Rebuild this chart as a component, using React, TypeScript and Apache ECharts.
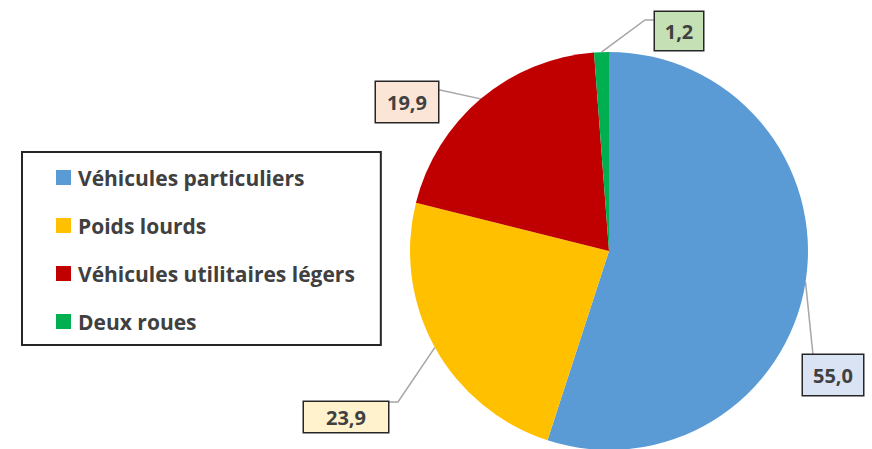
import React, { useEffect, useRef } from 'react';
import * as echarts from 'echarts';

const categories = ['Véhicules particuliers', 'Poids lourds', 'Véhicules utilitaires légers', 'Deux roues'];
const values = [55.0, 23.9, 19.9, 1.2];

const sliceColors = ['#5B9BD5', '#FFC000', '#C00000', '#00B050'];
const labelBackgrounds = ['#DAE3F3', '#FFF2CC', '#FBE5D6', '#C5E0B4'];
// label box centres, text widths, paddings and leader line [bend, end] points (layout, in px)
const labelCentres = [[833, 375], [346, 417], [407, 102], [679, 31]];
const labelWidths = [42, 42, 42, 28];
const labelPaddings = [[10, 9], [5, 21], [10, 10], [9, 10]];
const leaderPaths = [
  [[813, 355], [813, 355]],
  [[398, 402], [388, 402]],
  [[440, 90], [438, 90]],
  [[645, 20], [655, 20]],
];

const fmt = (v: number) => v.toFixed(1).replace('.', ',');

export default function App() {
  const ref = useRef<HTMLDivElement>(null);
  useEffect(() => {
    if (!ref.current) return;
    const chart = echarts.init(ref.current, null, { renderer: 'svg' });
    const data = categories.map((name, i) => ({
      name,
      value: values[i],
      itemStyle: { color: sliceColors[i] },
      label: {
        backgroundColor: labelBackgrounds[i],
        padding: labelPaddings[i],
        width: labelWidths[i],
      },
    }));
    chart.setOption({
      animation: false,
      legend: {
        orient: 'vertical',
        left: 22,
        top: 152,
        icon: 'rect',
        itemWidth: 15,
        itemHeight: 15,
        itemGap: 27,
        padding: [15, 26, 13, 34],
        borderColor: '#262626',
        borderWidth: 2,
        selectedMode: false,
        data: categories,
        textStyle: {
          fontFamily: 'Open Sans',
          fontWeight: 'bold',
          fontSize: 21,
          lineHeight: 20,
          color: '#404040',
          padding: [0, 0, 0, 2],
        },
      },
      series: [
        {
          type: 'pie',
          radius: 199,
          center: [609, 251],
          startAngle: 90,
          clockwise: true,
          silent: true,
          emphasis: { disabled: true },
          data,
          label: {
            show: true,
            position: 'outside',
            overflow: 'none',
            formatter: (p: any) => fmt(p.value),
            fontFamily: 'Open Sans',
            fontWeight: 'bold',
            fontSize: 20,
            lineHeight: 20,
            color: '#404040',
            borderColor: '#262626',
            borderWidth: 1.5,
          },
          labelLine: {
            show: true,
            length: 20,
            length2: 10,
            lineStyle: { color: '#A6A6A6', width: 1.5 },
          },
          labelLayout: (params: any) => {
            const i = params.dataIndex;
            const pts = params.labelLinePoints;
            const anchor = pts && pts[0] ? pts[0] : leaderPaths[i][0];
            return {
              x: labelCentres[i][0],
              y: labelCentres[i][1],
              align: 'center',
              verticalAlign: 'middle',
              labelLinePoints: [anchor, leaderPaths[i][0], leaderPaths[i][1]],
            };
          },
        },
      ],
    });
    return () => chart.dispose();
  }, []);
  return (
    <div
      ref={ref}
      style={{ position: 'fixed', left: 0, top: 0, width: 872, height: 449, background: '#fff' }}
    />
  );
}
